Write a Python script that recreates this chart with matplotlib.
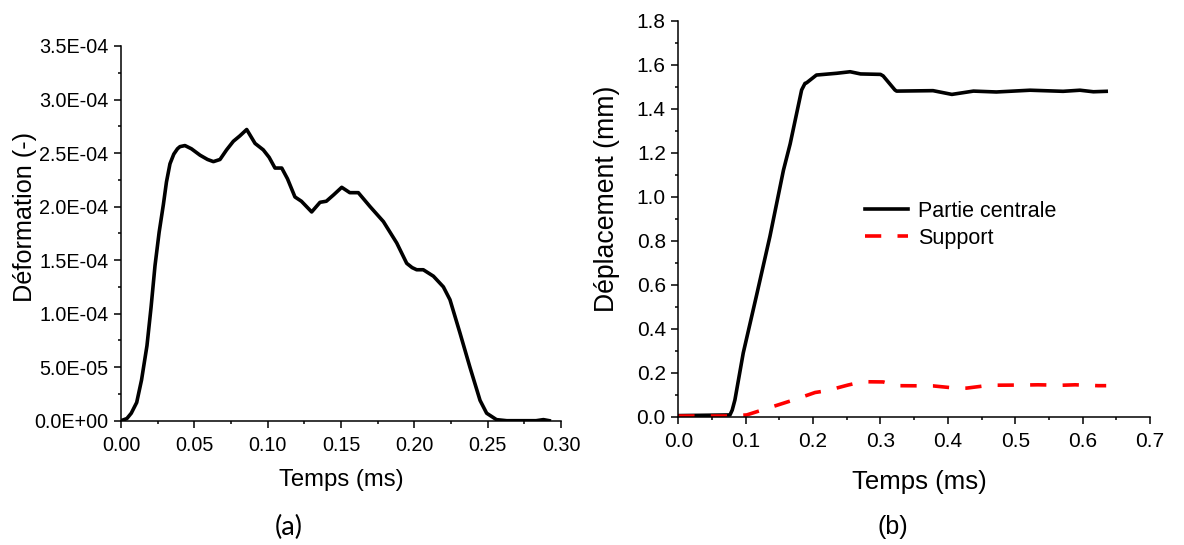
import matplotlib
matplotlib.use("Agg")
import matplotlib.pyplot as plt
from matplotlib.ticker import MultipleLocator, FuncFormatter

# ---- data: panel (a) ----
t_a = [0, 0.004, 0.007, 0.0107, 0.014, 0.0177, 0.0205, 0.0232, 0.026, 0.0289, 0.031,
       0.0334, 0.036, 0.0385, 0.0402, 0.0436, 0.048, 0.0539, 0.059, 0.063, 0.0675,
       0.072, 0.0766, 0.081, 0.0857, 0.0914, 0.097, 0.101, 0.105, 0.1096, 0.1135,
       0.1186, 0.123, 0.130, 0.1357, 0.140, 0.145, 0.1505, 0.156, 0.1618, 0.1698,
       0.1789, 0.188, 0.1948, 0.1985, 0.2016, 0.2061, 0.213, 0.2198, 0.2243, 0.2311,
       0.2379, 0.2448, 0.2493, 0.256, 0.263, 0.275, 0.283, 0.288, 0.292]
eps_a = [0, 0.02, 0.07, 0.17, 0.38, 0.70, 1.06, 1.45, 1.76, 2.02, 2.23,
         2.40, 2.49, 2.54, 2.56, 2.57, 2.54, 2.48, 2.44, 2.42, 2.44,
         2.53, 2.61, 2.66, 2.72, 2.59, 2.53, 2.46, 2.36, 2.36, 2.26,
         2.09, 2.05, 1.95, 2.04, 2.05, 2.11, 2.18, 2.13, 2.13, 2.0,
         1.86, 1.66, 1.47, 1.43, 1.41, 1.41, 1.35, 1.25, 1.13, 0.82,
         0.50, 0.19, 0.07, 0.01, 0, 0, 0.0, 0.01, 0]
eps_a = [v * 1e-4 for v in eps_a]

# ---- data: panel (b) ----
t_b = [0, 0.0767, 0.080, 0.084, 0.0964, 0.116, 0.136, 0.156, 0.166, 0.183, 0.188,
       0.1905, 0.205, 0.235, 0.255, 0.2705, 0.30, 0.304, 0.3215, 0.324, 0.378, 0.406,
       0.438, 0.472, 0.522, 0.571, 0.596, 0.616, 0.635]
d_central = [0.005, 0.008, 0.03, 0.076, 0.29, 0.55, 0.82, 1.12, 1.24, 1.485, 1.515,
             1.518, 1.553, 1.561, 1.568, 1.558, 1.556, 1.549, 1.485, 1.48, 1.482, 1.465,
             1.48, 1.476, 1.484, 1.479, 1.484, 1.477, 1.479]
t_s = [0, 0.075, 0.1015, 0.171, 0.203, 0.22, 0.252, 0.2735, 0.304, 0.324, 0.378,
       0.411, 0.428, 0.462, 0.514, 0.534, 0.569, 0.589, 0.623, 0.635]
d_support = [0.003, 0.003, 0.008, 0.076, 0.11, 0.118, 0.144, 0.159, 0.158, 0.141, 0.14,
             0.13, 0.13, 0.143, 0.144, 0.145, 0.143, 0.145, 0.141, 0.141]

plt.rcParams['font.family'] = ['Liberation Sans', 'DejaVu Sans']

W, H = 1184, 545
fig = plt.figure(figsize=(W / 100, H / 100), dpi=100)

ax1 = fig.add_axes([121 / W, 1 - 420.7 / H, 440 / W, 374.7 / H])
ax2 = fig.add_axes([678.3 / W, 1 - 416.7 / H, 471.7 / W, 396 / H])

for ax in (ax1, ax2):
    for s in ('top', 'right'):
        ax.spines[s].set_visible(False)
    for s in ('left', 'bottom'):
        ax.spines[s].set_linewidth(1.1)
    ax.tick_params(which='major', direction='out', length=5, width=1.1, labelsize=14.2, pad=4)
    ax.tick_params(which='minor', direction='out', length=2.5, width=1.1)
    ax.tick_params(axis='x', which='major', pad=6)

# panel (a)
ax1.plot(t_a, eps_a, color='black', lw=2.6, solid_joinstyle='round')
ax1.set_xlim(0, 0.30)
ax1.set_ylim(0, 3.5e-4)
ax1.xaxis.set_major_locator(MultipleLocator(0.05))
ax1.xaxis.set_minor_locator(MultipleLocator(0.025))
ax1.yaxis.set_major_locator(MultipleLocator(0.5e-4))
ax1.yaxis.set_minor_locator(MultipleLocator(0.25e-4))
ax1.xaxis.set_major_formatter(FuncFormatter(lambda v, p: f"{v:.2f}"))
ax1.yaxis.set_major_formatter(FuncFormatter(lambda v, p: f"{v:.1E}"))
ax1.set_xlabel('Temps (ms)', fontsize=17.2, va='center')
ax1.xaxis.set_label_coords(0.5, -0.158)
ax1.set_ylabel('Déformation (-)', fontsize=18.2, va='center', ha='center')
ax1.yaxis.set_label_coords(-0.218, 0.545)

# panel (b)
ax2.plot(t_b, d_central, color='black', lw=2.6, solid_joinstyle='round',
         label='Partie centrale')
ax2.plot(t_s, d_support, color='#ff0000', lw=2.6, dashes=(4.5, 4.5), label='Support')
ax2.set_xlim(0, 0.7)
ax2.set_ylim(0, 1.8)
ax2.xaxis.set_major_locator(MultipleLocator(0.1))
ax2.xaxis.set_minor_locator(MultipleLocator(0.05))
ax2.yaxis.set_major_locator(MultipleLocator(0.2))
ax2.yaxis.set_minor_locator(MultipleLocator(0.1))
ax2.xaxis.set_major_formatter(FuncFormatter(lambda v, p: f"{v:.1f}"))
ax2.yaxis.set_major_formatter(FuncFormatter(lambda v, p: f"{v:.1f}"))
ax2.tick_params(labelsize=15)
ax2.set_xlabel('Temps (ms)', fontsize=18.5, va='center')
ax2.xaxis.set_label_coords(0.512, -0.164)
ax2.set_ylabel('Déplacement (mm)', fontsize=19.2, va='center', ha='center')
ax2.yaxis.set_label_coords(-0.151, 0.551)

fig.legend(loc='upper left', bbox_to_anchor=(865 / W, 1 - 201 / H), frameon=False,
           fontsize=15.5, handlelength=2.0, handletextpad=0.45, borderpad=0,
           borderaxespad=0, labelspacing=0.26)

fig.text(289 / W, 1 - 527 / H, '(a)', fontsize=19.5, ha='center', va='center',
         family=['Lato', 'DejaVu Sans'])
fig.text(892.5 / W, 1 - 527 / H, '(b)', fontsize=18, ha='center', va='center')

fig.savefig('out.png', dpi=100)
